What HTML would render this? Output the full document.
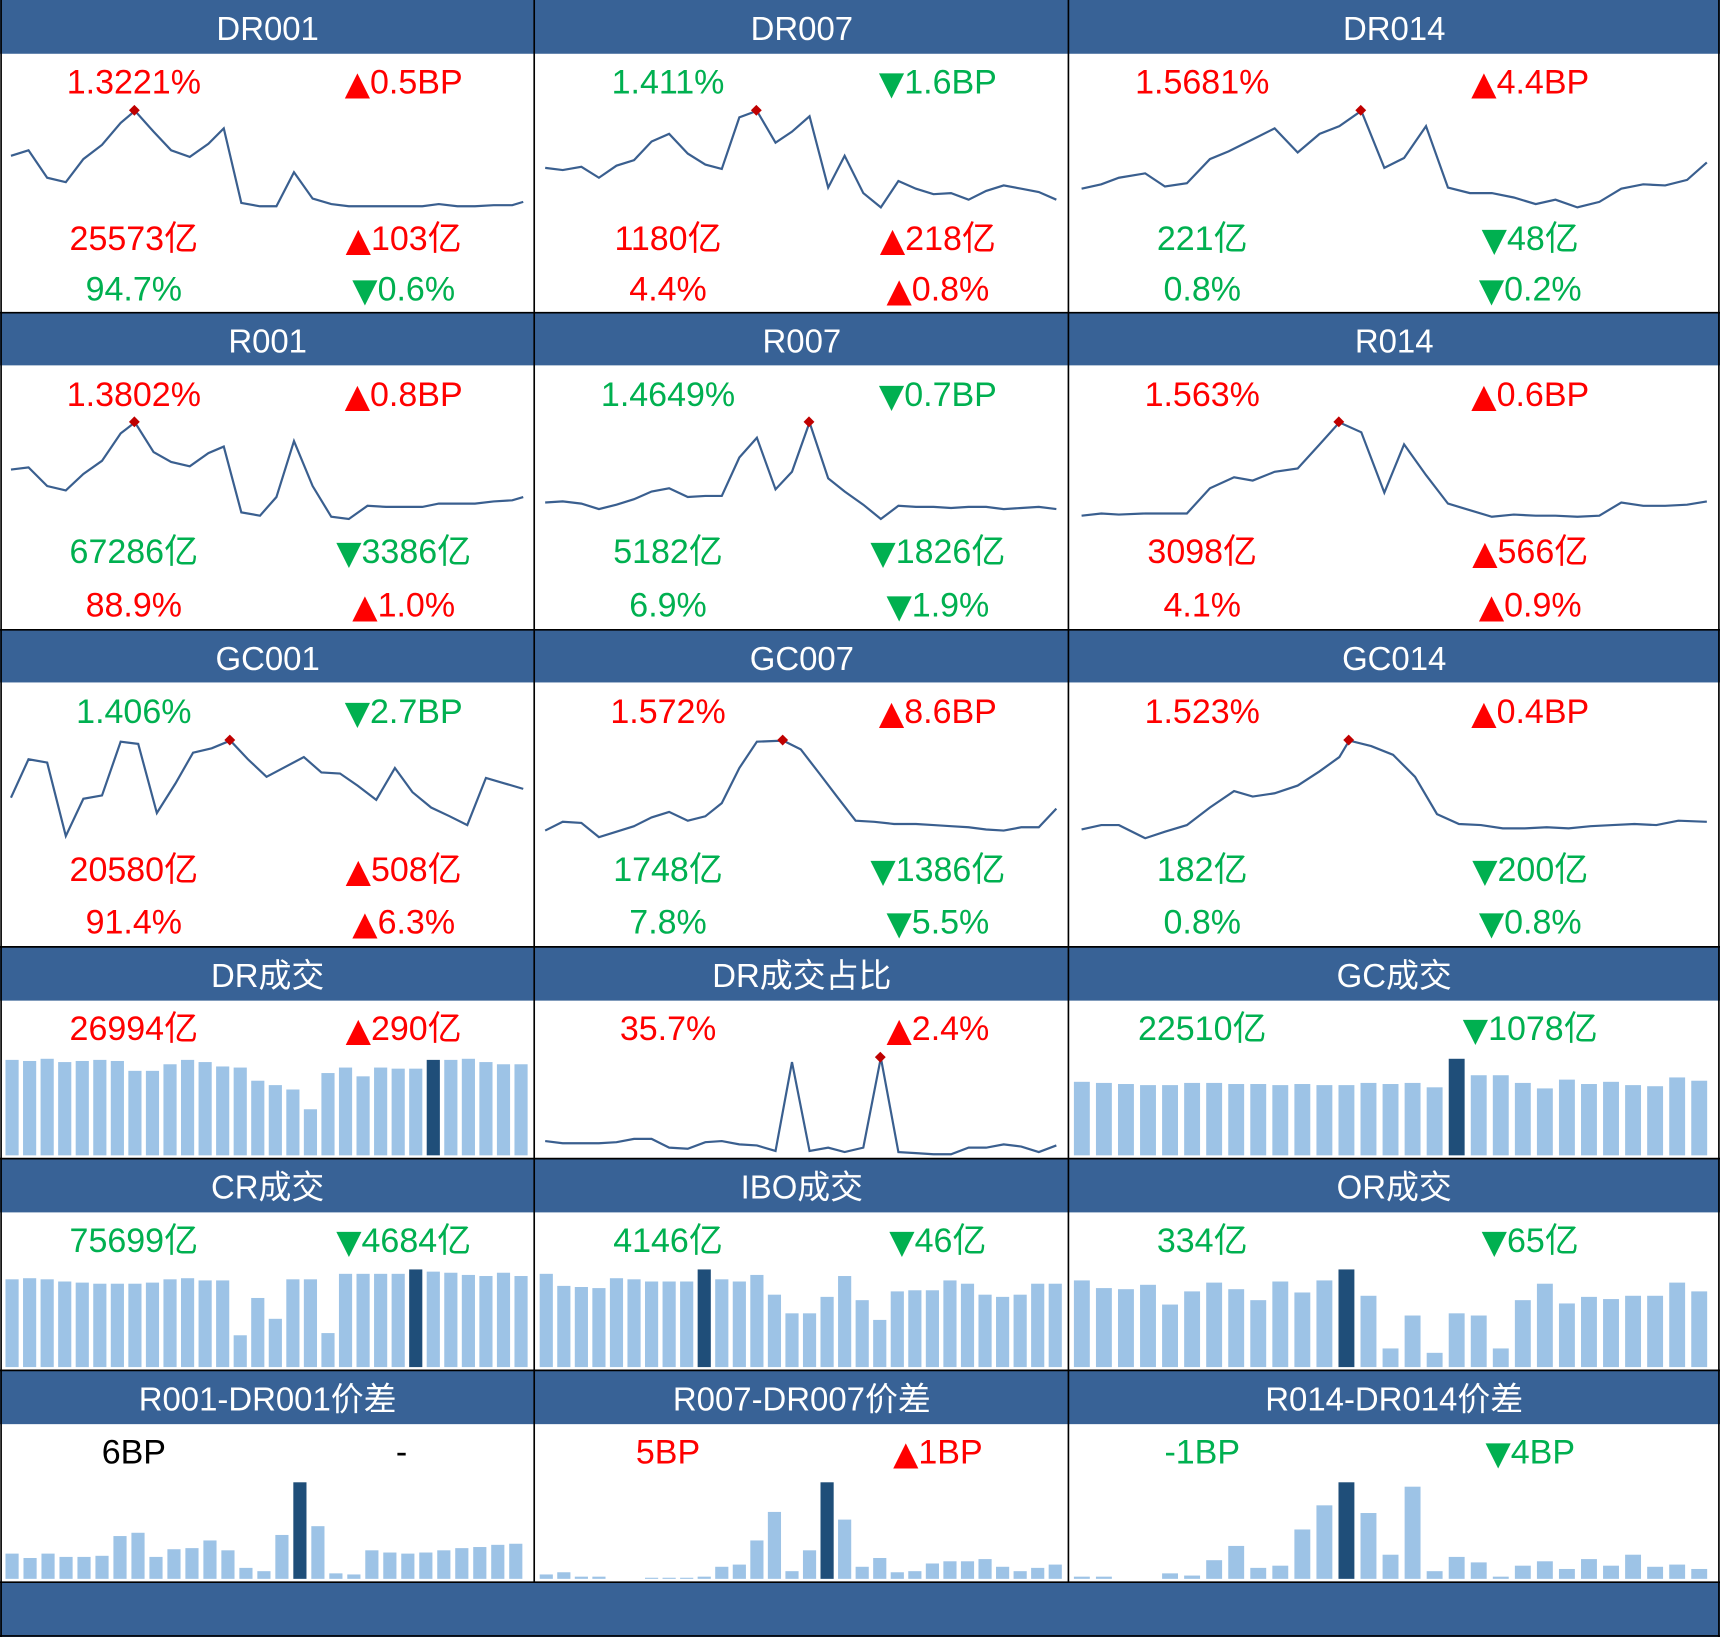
<!DOCTYPE html>
<html><head><meta charset="utf-8"><style>
html,body{margin:0;padding:0;background:#fff}
svg{display:block}
text{font-family:"Liberation Sans","Noto Sans CJK SC",sans-serif}
.h{fill:#fff;font-size:30px;text-anchor:middle;dominant-baseline:central}
.v{font-size:31px;text-anchor:middle;dominant-baseline:central}
.v tspan.t{font-family:"DejaVu Sans",sans-serif;font-size:30px}
.r{fill:#ff0000}.g{fill:#00b050}.k{fill:#000}
.l{fill:none;stroke:#3a5f8f;stroke-width:2}
</style></head><body>
<svg id="s" width="1720" height="1637" viewBox="0 0 1568 1492" preserveAspectRatio="none" xmlns="http://www.w3.org/2000/svg">
<rect x="0" y="0" width="1568" height="1492" fill="#fff"/>
<g fill="#386296">
<rect x="0" y="0" width="1568" height="49"/>
<rect x="0" y="285" width="1568" height="48"/>
<rect x="0" y="574" width="1568" height="48"/>
<rect x="0" y="863" width="1568" height="49"/>
<rect x="0" y="1056" width="1568" height="49"/>
<rect x="0" y="1249" width="1568" height="49"/>
<rect x="0" y="1442" width="1568" height="50"/>
</g>
<g stroke="#000" stroke-width="1.5">
<line x1="487" y1="0" x2="487" y2="1442"/>
<line x1="974" y1="0" x2="974" y2="1442"/>
<line x1="0" y1="285" x2="1568" y2="285"/>
<line x1="0" y1="574" x2="1568" y2="574"/>
<line x1="0" y1="863" x2="1568" y2="863"/>
<line x1="0" y1="1056" x2="1568" y2="1056"/>
<line x1="0" y1="1249" x2="1568" y2="1249"/>
<line x1="0" y1="1442" x2="1568" y2="1442"/>
<line x1="1" y1="0" x2="1" y2="1492"/>
<line x1="1567" y1="0" x2="1567" y2="1492"/>
<line x1="0" y1="1491" x2="1568" y2="1491"/>
</g>
<g id="bars"></g>
<text class="h" x="244" y="26">DR001</text><text class="h" x="731" y="26">DR007</text><text class="h" x="1271" y="26">DR014</text>
<text class="h" x="244" y="311">R001</text><text class="h" x="731" y="311">R007</text><text class="h" x="1271" y="311">R014</text>
<text class="h" x="244" y="600">GC001</text><text class="h" x="731" y="600">GC007</text><text class="h" x="1271" y="600">GC014</text>
<text class="h" x="244" y="889">DR成交</text><text class="h" x="731" y="889">DR成交占比</text><text class="h" x="1271" y="889">GC成交</text>
<text class="h" x="244" y="1082">CR成交</text><text class="h" x="731" y="1082">IBO成交</text><text class="h" x="1271" y="1082">OR成交</text>
<text class="h" x="244" y="1275">R001-DR001价差</text><text class="h" x="731" y="1275">R007-DR007价差</text><text class="h" x="1271" y="1275">R014-DR014价差</text>
<text class="v r" x="122" y="75">1.3221%</text><text class="v r" x="368" y="75"><tspan class="t">▲</tspan>0.5BP</text>
<text class="v r" x="122" y="218">25573亿</text><text class="v r" x="368" y="218"><tspan class="t">▲</tspan>103亿</text>
<text class="v g" x="122" y="264">94.7%</text><text class="v g" x="368" y="264"><tspan class="t">▼</tspan>0.6%</text>
<text class="v g" x="609" y="75">1.411%</text><text class="v g" x="855" y="75"><tspan class="t">▼</tspan>1.6BP</text>
<text class="v r" x="609" y="218">1180亿</text><text class="v r" x="855" y="218"><tspan class="t">▲</tspan>218亿</text>
<text class="v r" x="609" y="264">4.4%</text><text class="v r" x="855" y="264"><tspan class="t">▲</tspan>0.8%</text>
<text class="v r" x="1096" y="75">1.5681%</text><text class="v r" x="1395" y="75"><tspan class="t">▲</tspan>4.4BP</text>
<text class="v g" x="1096" y="218">221亿</text><text class="v g" x="1395" y="218"><tspan class="t">▼</tspan>48亿</text>
<text class="v g" x="1096" y="264">0.8%</text><text class="v g" x="1395" y="264"><tspan class="t">▼</tspan>0.2%</text>
<text class="v r" x="122" y="360">1.3802%</text><text class="v r" x="368" y="360"><tspan class="t">▲</tspan>0.8BP</text>
<text class="v g" x="122" y="503">67286亿</text><text class="v g" x="368" y="503"><tspan class="t">▼</tspan>3386亿</text>
<text class="v r" x="122" y="552">88.9%</text><text class="v r" x="368" y="552"><tspan class="t">▲</tspan>1.0%</text>
<text class="v g" x="609" y="360">1.4649%</text><text class="v g" x="855" y="360"><tspan class="t">▼</tspan>0.7BP</text>
<text class="v g" x="609" y="503">5182亿</text><text class="v g" x="855" y="503"><tspan class="t">▼</tspan>1826亿</text>
<text class="v g" x="609" y="552">6.9%</text><text class="v g" x="855" y="552"><tspan class="t">▼</tspan>1.9%</text>
<text class="v r" x="1096" y="360">1.563%</text><text class="v r" x="1395" y="360"><tspan class="t">▲</tspan>0.6BP</text>
<text class="v r" x="1096" y="503">3098亿</text><text class="v r" x="1395" y="503"><tspan class="t">▲</tspan>566亿</text>
<text class="v r" x="1096" y="552">4.1%</text><text class="v r" x="1395" y="552"><tspan class="t">▲</tspan>0.9%</text>
<text class="v g" x="122" y="649">1.406%</text><text class="v g" x="368" y="649"><tspan class="t">▼</tspan>2.7BP</text>
<text class="v r" x="122" y="793">20580亿</text><text class="v r" x="368" y="793"><tspan class="t">▲</tspan>508亿</text>
<text class="v r" x="122" y="841">91.4%</text><text class="v r" x="368" y="841"><tspan class="t">▲</tspan>6.3%</text>
<text class="v r" x="609" y="649">1.572%</text><text class="v r" x="855" y="649"><tspan class="t">▲</tspan>8.6BP</text>
<text class="v g" x="609" y="793">1748亿</text><text class="v g" x="855" y="793"><tspan class="t">▼</tspan>1386亿</text>
<text class="v g" x="609" y="841">7.8%</text><text class="v g" x="855" y="841"><tspan class="t">▼</tspan>5.5%</text>
<text class="v r" x="1096" y="649">1.523%</text><text class="v r" x="1395" y="649"><tspan class="t">▲</tspan>0.4BP</text>
<text class="v g" x="1096" y="793">182亿</text><text class="v g" x="1395" y="793"><tspan class="t">▼</tspan>200亿</text>
<text class="v g" x="1096" y="841">0.8%</text><text class="v g" x="1395" y="841"><tspan class="t">▼</tspan>0.8%</text>
<text class="v r" x="122" y="938">26994亿</text><text class="v r" x="368" y="938"><tspan class="t">▲</tspan>290亿</text>
<text class="v r" x="609" y="938">35.7%</text><text class="v r" x="855" y="938"><tspan class="t">▲</tspan>2.4%</text>
<text class="v g" x="1096" y="938">22510亿</text><text class="v g" x="1395" y="938"><tspan class="t">▼</tspan>1078亿</text>
<text class="v g" x="122" y="1131">75699亿</text><text class="v g" x="368" y="1131"><tspan class="t">▼</tspan>4684亿</text>
<text class="v g" x="609" y="1131">4146亿</text><text class="v g" x="855" y="1131"><tspan class="t">▼</tspan>46亿</text>
<text class="v g" x="1096" y="1131">334亿</text><text class="v g" x="1395" y="1131"><tspan class="t">▼</tspan>65亿</text>
<text class="v k" x="122" y="1324">6BP</text><text class="v k" x="366" y="1324">-</text>
<text class="v r" x="609" y="1324">5BP</text><text class="v r" x="855" y="1324"><tspan class="t">▲</tspan>1BP</text>
<text class="v g" x="1096" y="1324">-1BP</text><text class="v g" x="1395" y="1324"><tspan class="t">▼</tspan>4BP</text>
<polyline class="l" points="10,142 26,137 43,162 60,166 76,145 93,132 110,112 123,101 140,120 156,137 173,143 190,131 204,117 220,185 237,188 252,188 268,157 285,181 302,186 318,188 335,188 352,188 368,188 385,188 400,186 417,188 433,188 450,187 467,187 477,184"/>
<polyline class="l" points="497,153 513,155 530,152 546,162 562,151 578,146 594,129 610,122 627,140 643,150 658,154 674,107 690,101 707,130 722,120 738,106 755,171 770,142 787,176 803,189 819,165 835,172 851,177 867,176 883,182 899,174 915,169 931,172 947,175 963,182"/>
<polyline class="l" points="986,172 1004,168 1020,162 1044,158 1062,170 1082,167 1103,145 1120,138 1142,127 1162,117 1183,139 1203,122 1221,115 1241,101 1262,153 1280,144 1300,115 1320,171 1340,176 1360,176 1380,180 1400,186 1418,182 1438,189 1458,184 1478,172 1498,168 1518,169 1538,164 1556,148"/>
<polyline class="l" points="10,428 26,426 43,443 60,447 76,432 93,420 110,395 123,385 140,412 156,421 173,425 190,413 204,407 220,467 237,470 252,453 268,402 285,443 302,471 318,473 335,461 352,462 368,462 385,462 400,459 417,459 433,459 450,457 467,456 477,453"/>
<polyline class="l" points="497,458 513,457 530,459 546,464 562,460 578,455 594,448 610,445 627,453 643,452 658,452 674,417 690,399 707,446 722,430 738,385 755,436 770,448 787,460 803,473 819,461 835,462 851,462 867,463 883,462 899,462 915,464 931,463 947,462 963,464"/>
<polyline class="l" points="986,470 1004,468 1020,469 1044,468 1062,468 1082,468 1103,445 1125,435 1142,438 1162,430 1183,427 1203,405 1221,385 1241,394 1262,449 1280,405 1300,433 1320,459 1340,465 1360,471 1380,469 1400,470 1418,470 1438,471 1458,470 1478,458 1498,461 1518,461 1538,460 1556,457"/>
<polyline class="l" points="10,727 26,692 43,695 60,762 76,728 93,725 110,676 126,678 143,741 160,714 176,686 193,682 210,675 226,692 243,708 260,699 277,690 293,704 310,705 326,716 343,729 360,700 376,722 393,736 410,744 426,752 443,709 460,714 477,719"/>
<polyline class="l" points="497,757 513,749 530,750 546,763 562,758 578,753 594,745 610,740 627,748 643,744 658,732 674,700 690,676 714,675 730,683 747,705 763,726 780,748 797,749 815,751 835,751 851,752 867,753 883,754 899,756 915,757 931,754 947,754 963,737"/>
<polyline class="l" points="986,756 1004,752 1020,752 1044,764 1062,758 1082,752 1103,736 1125,721 1142,726 1162,723 1183,716 1203,703 1221,690 1230,675 1250,680 1270,688 1290,708 1310,742 1330,751 1350,752 1370,755 1390,755 1410,754 1430,755 1450,753 1470,752 1490,751 1510,752 1530,748 1556,749"/>
<polyline class="l" points="497,1040 513,1042 530,1042 546,1042 562,1041 578,1038 594,1038 610,1046 627,1047 643,1041 658,1040 674,1043 690,1044 707,1049 722,968 738,1049 755,1046 770,1050 787,1046 803,964 819,1050 835,1051 851,1052 867,1052 883,1046 899,1046 915,1043 931,1045 947,1050 963,1044"/>
<g fill="#c00000">
<rect x="119" y="97" width="7" height="7" transform="rotate(45 122.5 100.5)"/>
<rect x="686" y="97" width="7" height="7" transform="rotate(45 689.5 100.5)"/>
<rect x="1237" y="97" width="7" height="7" transform="rotate(45 1240.5 100.5)"/>
<rect x="119" y="381" width="7" height="7" transform="rotate(45 122.5 384.5)"/>
<rect x="734" y="381" width="7" height="7" transform="rotate(45 737.5 384.5)"/>
<rect x="1217" y="381" width="7" height="7" transform="rotate(45 1220.5 384.5)"/>
<rect x="206" y="671" width="7" height="7" transform="rotate(45 209.5 674.5)"/>
<rect x="710" y="671" width="7" height="7" transform="rotate(45 713.5 674.5)"/>
<rect x="1226" y="671" width="7" height="7" transform="rotate(45 1229.5 674.5)"/>
<rect x="799" y="960" width="7" height="7" transform="rotate(45 802.5 963.5)"/>
</g>
</svg>
<script>
var B=[
[5,16,12,1053,[966,967,965,968,967,966,967,976,976,970,966,968,972,973,985,989,993,1011,978,973,981,973,974,974,966,966,965,968,970,970],24],
[979,20.1,14.5,1053,[986,987,988,989,989,987,987,988,988,989,988,989,989,987,988,987,991,965,980,980,987,992,984,988,986,989,990,982,985],17],
[5,16,12,1246,[1166,1165,1166,1168,1169,1170,1170,1170,1169,1166,1165,1167,1167,1217,1183,1202,1166,1166,1215,1161,1161,1161,1161,1157,1159,1160,1162,1163,1160,1163],23],
[492,16,12,1246,[1161,1172,1173,1174,1165,1166,1168,1168,1168,1157,1166,1168,1162,1180,1197,1197,1182,1163,1185,1203,1177,1176,1176,1167,1170,1180,1182,1180,1170,1170],9],
[979,20.1,14.5,1246,[1167,1174,1175,1171,1189,1177,1169,1175,1185,1168,1178,1167,1157,1181,1229,1199,1233,1197,1199,1229,1185,1170,1188,1182,1184,1181,1181,1169,1177],12],
[5,16.4,12,1439,[1416,1420,1416,1419,1419,1418,1400,1397,1419,1412,1411,1404,1413,1429,1432,1399,1351,1391,1434,1435,1413,1415,1416,1415,1413,1411,1410,1408,1407],16],
[492,16,12,1439,[1435,1433,1437,1437,1440,1439,1438,1438,1438,1437,1428,1426,1404,1378,1432,1413,1351,1385,1428,1420,1433,1432,1425,1423,1423,1421,1428,1432,1429,1426],16],
[979,20.1,14.5,1439,[1437,1437,1440,1440,1434,1436,1422,1409,1429,1427,1394,1372,1351,1379,1417,1355,1432,1419,1424,1437,1427,1423,1430,1421,1427,1417,1428,1426,1430],12]];
var g=document.getElementById('bars'),h='';
B.forEach(function(b){b[4].forEach(function(t,i){var x=b[0]+i*b[1];if(b[3]-t<=0)return;
h+='<rect x="'+x.toFixed(1)+'" y="'+t+'" width="'+b[2]+'" height="'+(b[3]-t)+'" fill="'+(i==b[5]?'#1f4e79':'#9dc3e6')+'"/>';});});
g.innerHTML=h;
</script>
</body></html>
